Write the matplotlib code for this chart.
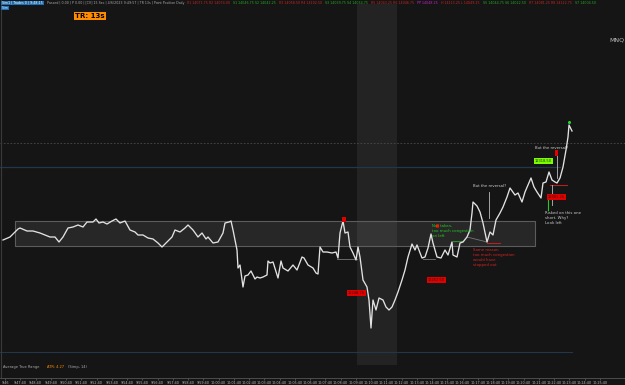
import matplotlib
matplotlib.use("Agg")
import matplotlib.pyplot as plt
from matplotlib.patches import Rectangle

# ---- data (x = chart position of each bar, level = price level) ----
bar_x = [3, 10, 15, 18, 20, 27, 33, 40, 45, 50, 55, 59, 63, 68, 73, 78, 83, 87, 93, 96,
         99, 103, 107, 112, 116, 120, 125, 130, 135, 138, 143, 148, 153, 158, 162, 167,
         172, 175, 180, 185, 188, 193, 198, 202, 206, 208, 213, 218, 223, 225, 229, 231,
         233, 237, 238, 240, 243, 245, 248, 251, 255, 257, 260, 263, 267, 268, 270, 273,
         278, 281, 283, 288, 293, 297, 302, 304, 308, 313, 316, 318, 320, 323, 327, 332,
         336, 338, 340, 343, 345, 348, 350, 353, 356, 358, 360, 363, 367, 369, 371, 373,
         376, 379, 383, 386, 389, 392, 395, 398, 402, 405, 408, 412, 415, 417, 422, 425,
         428, 431, 433, 437, 441, 445, 448, 452, 453, 457, 460, 463, 467, 470, 472, 473,
         477, 480, 483, 487, 490, 493, 496, 500, 503, 507, 510, 515, 518, 522, 525, 528,
         531, 534, 537, 541, 543, 546, 549, 552, 555, 557, 560, 563, 566, 568, 569, 572]
bar_level = [145, 148, 153, 156, 157, 154, 154, 152, 150, 148, 148, 143, 148, 157, 158, 160,
             158, 163, 163, 166, 162, 163, 161, 164, 166, 162, 164, 155, 153, 150, 150, 147,
             146, 142, 138, 143, 148, 155, 153, 157, 160, 155, 148, 152, 146, 148, 142, 143,
             152, 162, 163, 164, 155, 135, 117, 120, 98, 109, 110, 114, 106, 108, 107, 108,
             110, 124, 122, 123, 107, 124, 117, 114, 120, 115, 128, 127, 120, 117, 112, 111,
             138, 133, 133, 132, 133, 127, 152, 164, 152, 153, 138, 132, 125, 138, 128, 105,
             98, 85, 57, 85, 75, 87, 85, 78, 75, 78, 85, 93, 105, 115, 128, 141, 135, 140,
             127, 128, 137, 151, 142, 128, 127, 135, 130, 143, 130, 128, 142, 143, 148, 155,
             172, 183, 179, 173, 162, 143, 153, 150, 165, 172, 178, 188, 197, 190, 192, 183,
             193, 200, 207, 198, 193, 187, 202, 203, 213, 205, 203, 202, 207, 218, 235, 248,
             260, 254]

tick_pos = [5 + 15.25 * i for i in range(40)]
tick_labels = []
for i in range(40):
    m = 46 + i
    h = 9 + m // 60
    tick_labels.append(f"{h}:{m % 60:02d}:40")
tick_labels[0] = "9:46"

range_box = (15, 535, 139, 164)      # x0, x1, level low, level high
band = (357, 397)
dotted_level = 242
blue_level = 218
blue_low_level = 33

# ---- figure ----
BG = "#151515"
fig = plt.figure(figsize=(6.25, 3.85), dpi=100, facecolor=BG)
ax = fig.add_axes([0, 7 / 385, 1, 378 / 385])
ax.set_facecolor(BG)
ax.set_xlim(0, 625)
ax.set_ylim(7, 385)

# vertical band
ax.add_patch(Rectangle((band[0], 20), band[1] - band[0], 361, facecolor="#232323",
                       edgecolor="none", zorder=0))
# range box
ax.add_patch(Rectangle((range_box[0], range_box[2]), range_box[1] - range_box[0],
                       range_box[3] - range_box[2], facecolor="#ffffff", alpha=0.08,
                       edgecolor="none", zorder=1))
ax.add_patch(Rectangle((range_box[0], range_box[2]), range_box[1] - range_box[0],
                       range_box[3] - range_box[2], facecolor="none",
                       edgecolor="#5c5c5c", lw=0.8, zorder=1))

ax.axhline(dotted_level, color="#4a4a4a", lw=0.6, ls=(0, (2, 2)), zorder=1)
ax.plot([0, 560], [blue_level, blue_level], color="#22384a", lw=0.9, zorder=1)
ax.plot([0, 572], [blue_low_level, blue_low_level], color="#22384a", lw=0.8, zorder=1)
ax.axvline(1, color="#3a3a3a", lw=0.8)

# drawn helper lines
ax.plot([337, 357], [126, 126], color="#777777", lw=0.6, zorder=2)
ax.plot([423, 435], [126, 126], color="#777777", lw=0.6, zorder=2)
ax.plot([453, 463], [144, 144], color="#2e8b2e", lw=0.8, zorder=2)
ax.plot([467, 487], [148, 143], color="#777777", lw=0.6, zorder=2)
ax.plot([487, 500], [142, 142], color="#b22222", lw=0.8, zorder=2)
ax.plot([550, 567], [200, 200], color="#b22222", lw=0.8, zorder=2)
ax.plot([489, 489], [193, 167], color="#bbbbbb", lw=0.6, zorder=2)
ax.plot([557, 557], [233, 207], color="#bbbbbb", lw=0.6, zorder=2)
ax.plot([552, 552], [200, 180], color="#bbbbbb", lw=0.6, zorder=2)
ax.plot([548, 548], [185, 175], color="#22cc22", lw=0.8, zorder=2)

# main price line
ax.plot(bar_x, bar_level, color="#e2e2e2", lw=0.95, zorder=3)
ax.plot([569], [263], marker="o", ms=1.2, color="#22dd22", zorder=4)

# labels
def tag(x, y, s, fc, tc):
    ax.text(x, y, s, fontsize=2.6, color=tc, ha="left", va="center", zorder=5,
            bbox=dict(boxstyle="square,pad=0.25", fc=fc, ec="none"))

tag(348, 92, "12248.75", "#e00000", "#400000")
tag(428, 105, "12262.50", "#e00000", "#400000")
tag(548, 188, "12301.25", "#e00000", "#400000")
tag(535, 224, "12318.50", "#7cfc00", "#1a3300")
ax.add_patch(Rectangle((342, 163), 4, 5, facecolor="#e00000", zorder=5))
ax.add_patch(Rectangle((436, 157), 3, 4, facecolor="#e00000", zorder=5))
ax.add_patch(Rectangle((555, 229), 3, 6, facecolor="#e00000", zorder=5))

ax.text(432, 161, "Not taken,\ntoo much congestion\non left", fontsize=2.8,
        color="#22cc22", va="top", linespacing=1.3, zorder=5)
ax.text(473, 137, "Same reason\ntoo much congestion\nwould have\nstopped out", fontsize=2.8,
        color="#dd2222", va="top", linespacing=1.3, zorder=5)
ax.text(473, 199, "But the reversal?", fontsize=2.8, color="#cccccc", va="center", zorder=5)
ax.text(535, 237, "But the reversal?", fontsize=2.8, color="#cccccc", va="center", zorder=5)
ax.text(545, 174, "Risked on this one\nshort. Why?\nLook left", fontsize=2.8,
        color="#cccccc", va="top", linespacing=1.3, zorder=5)

ax.text(3, 18, "Average True Range ", fontsize=2.6, color="#aaaaaa", va="center")
ax.text(47, 18, "ATR: 4.27", fontsize=2.6, color="#ff8c00", va="center")
ax.text(68, 18, "(Simp, 14)", fontsize=2.6, color="#aaaaaa", va="center")

ax.text(609, 345, "MNQ", fontsize=4.5, color="#bbbbbb", va="center")

# x axis
for s in ["top", "right", "left"]:
    ax.spines[s].set_visible(False)
ax.spines["bottom"].set_color("#555555")
ax.spines["bottom"].set_linewidth(0.6)
ax.set_yticks([])
ax.set_xticks(tick_pos)
ax.set_xticklabels(tick_labels, fontsize=2.4, color="#bbbbbb")
ax.tick_params(axis="x", length=1.5, width=0.4, color="#777777", pad=0.8)

# header, laid out left to right from measured text widths
header_parts = [(" Sim1 | Trades 0 | 9:48:15 ", "white", "#1e6fb5"),
                ("Passed | 0.00 | P 0.00 | [CV] 15 Sec | 4/6/2023 9:49:57 | TR 13s | Point Position Daily",
                 "#aaaaaa", None),
                ("R1 14071.75 R2 14074.00", "#cc2222", None),
                ("S1 14046.75 S2 14042.25", "#22aa22", None),
                ("R3 14058.50 R4 14102.50", "#cc2222", None),
                ("S3 14039.75 S4 14034.75", "#22aa22", None),
                ("R5 14043.25 R6 14046.75", "#cc2222", None),
                ("PP 14048.25", "#cc22cc", None),
                ("H 14113.25 L 14049.25", "#cc2222", None),
                ("S5 14044.75 S6 14022.50", "#22aa22", None),
                ("R7 14081.25 R8 14122.75", "#cc2222", None),
                ("S7 14004.50", "#22aa22", None)]
renderer = fig.canvas.get_renderer()
hx = 1.0
for s, c, bg in header_parts:
    kw = dict(fontsize=2.3, color=c, va="center")
    if bg:
        kw["bbox"] = dict(boxstyle="square,pad=0.15", fc=bg, ec="none")
    t = fig.text(hx / 625, 1 - 3 / 385, s, **kw)
    hx += t.get_window_extent(renderer).width + 3
fig.text(1 / 625, 1 - 8 / 385, " Sim ", fontsize=2.2, color="white", va="center",
         bbox=dict(boxstyle="square,pad=0.1", fc="#1e6fb5", ec="none"))
fig.text(75 / 625, 1 - 16 / 385, "TR: 13s", fontsize=5, color="black", weight="bold",
         va="center", bbox=dict(boxstyle="square,pad=0.2", fc="#ff8c00", ec="none"))

fig.savefig("out.png", dpi=100, facecolor=BG)
